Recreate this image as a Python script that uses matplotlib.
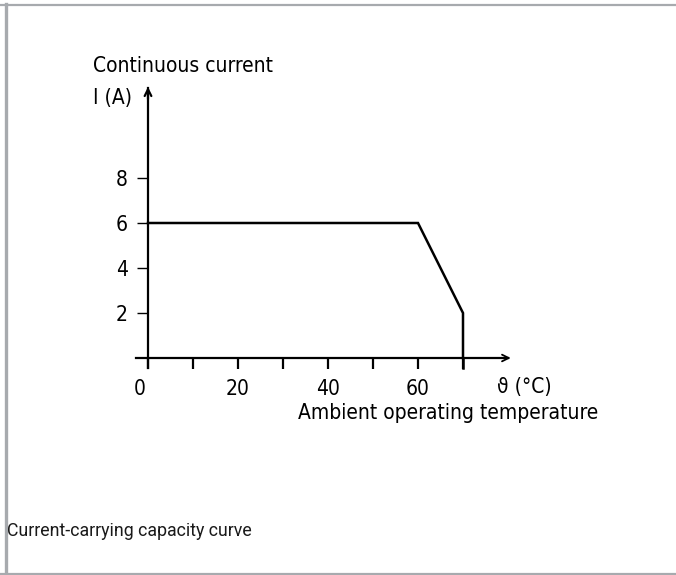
import matplotlib
matplotlib.use("Agg")
import matplotlib.pyplot as plt
from matplotlib.lines import Line2D
import matplotlib.transforms as mtrans

# Data
temp = [0, 60, 70, 70]          # ambient temperature (°C)
current = [6, 6, 2, 0]          # continuous current (A)
x_major = [0, 20, 40, 60]
x_major_labels = ["0", "20", "40", "60"]
x_minor = [10, 30, 50, 70]
y_ticks = [2, 4, 6, 8]
y_tick_labels = ["2", "4", "6", "8"]

W, H = 676, 575
DPI = 100
fig = plt.figure(figsize=(W / DPI, H / DPI), dpi=DPI)
fig.patch.set_facecolor("white")

FONT = ["DejaVu Sans"]
STRETCH = "condensed"

# Axes covering whole figure; map data to pixel positions
x0_px, xs = 148, 4.5
y0_px, ys = 358, 22.5
ax = fig.add_axes([0, 0, 1, 1])
ax.set_xlim((0 - x0_px) / xs, (W - x0_px) / xs)
ax.set_ylim((y0_px - H) / ys, (y0_px - 0) / ys)
ax.patch.set_alpha(0)

for s in ["top", "right"]:
    ax.spines[s].set_visible(False)
ax.spines["left"].set_position(("data", 0))
ax.spines["bottom"].set_position(("data", 0))
ax.spines["left"].set_bounds(-0.45, 12.0)
ax.spines["bottom"].set_bounds(-2.7, 80.0)
for s in ["left", "bottom"]:
    ax.spines[s].set_linewidth(1.6)
    ax.spines[s].set_color("black")

ax.set_xticks(x_major)
ax.set_xticklabels(x_major_labels)
ax.set_xticks(x_minor, minor=True)
ax.set_yticks(y_ticks)
ax.set_yticklabels(y_tick_labels)
ax.tick_params(axis="x", which="both", direction="out", length=8, width=1.6,
               pad=7, labelsize=15, colors="black")
ax.tick_params(axis="y", which="both", direction="out", length=8, width=1.0,
               pad=6.5, labelsize=15, colors="black")
for lab in ax.get_xticklabels() + ax.get_yticklabels():
    lab.set_family(FONT)
    lab.set_stretch(STRETCH)
# shift "0" label slightly left
ax.get_xticklabels()[0].set_transform(
    ax.get_xticklabels()[0].get_transform()
    + mtrans.ScaledTranslation(-8 / DPI, 0, fig.dpi_scale_trans))

# Arrowheads
ax.annotate("", xy=(0, 12.05), xytext=(0, 11.5),
            arrowprops=dict(arrowstyle="->", lw=1.6, color="black",
                            mutation_scale=12, shrinkA=0, shrinkB=0))
ax.annotate("", xy=(80.6, 0), xytext=(79.5, 0),
            arrowprops=dict(arrowstyle="->", lw=1.3, color="black",
                            mutation_scale=12, shrinkA=0, shrinkB=0))

# Curve
ax.plot(temp, current, color="black", lw=1.8, solid_joinstyle="miter")
ax.plot([70, 70], [0, -0.45], color="black", lw=1.8)

# Texts
tk = dict(family=FONT, stretch=STRETCH, fontsize=15, color="black", va="center")
ax.text(-12.2, 13.0, "Continuous current", ha="left", **tk)
ax.text(-12.2, 11.55, "I (A)", ha="left", **tk)
ax.text(77.5, -1.3, "ϑ (°C)", ha="left", **tk)
ax.text(33.3, -2.45, "Ambient operating temperature", ha="left", **tk)

fig.text(7 / W, 1 - 531 / H, "Current-carrying capacity curve",
         family=["Roboto", "DejaVu Sans"], fontsize=12.8, ha="left", va="center",
         color="#1a1a1a")

# Frame border
border_color = "#a7aaae"
fig.add_artist(Line2D([0, 1], [1 - 4.5 / H] * 2, transform=fig.transFigure,
                      color=border_color, lw=1.6))
fig.add_artist(Line2D([5.5 / W] * 2, [1 - 4 / H, 1 - 574 / H],
                      transform=fig.transFigure, color=border_color, lw=2.4))
fig.add_artist(Line2D([0, 1], [1 - 573.5 / H] * 2, transform=fig.transFigure,
                      color=border_color, lw=1.6))

fig.savefig("out.png", dpi=DPI, facecolor="white")
